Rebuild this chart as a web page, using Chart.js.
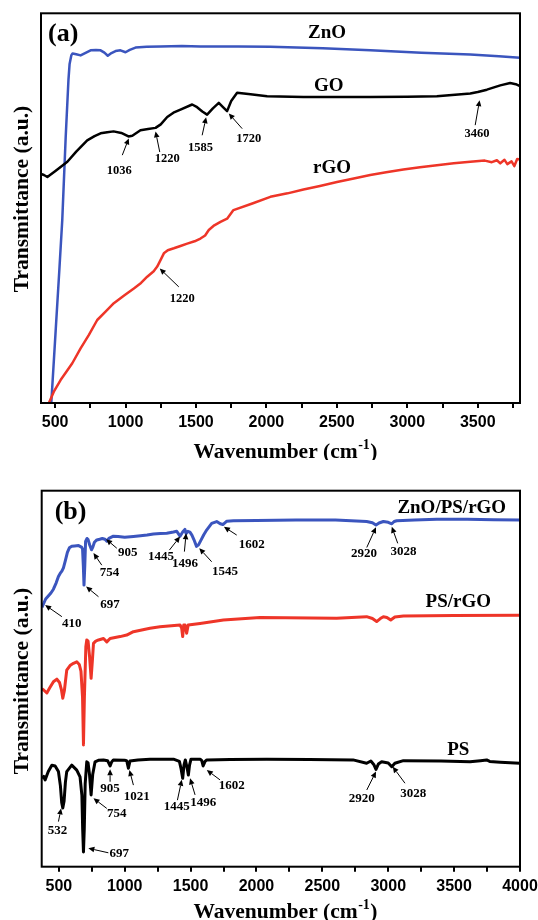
<!DOCTYPE html>
<html>
<head>
<meta charset="utf-8">
<script src="https://cdn.jsdelivr.net/npm/chart.js@4.4.1/dist/chart.umd.min.js"></script>
<style>
  html, body { margin: 0; padding: 0; background: #fff; }
  #wrap { position: relative; width: 538px; height: 920px; }
  canvas { position: absolute; left: 0; }
  #chartA { top: 0; }
  #chartB { top: 460px; }
</style>
</head>
<body>
<div id="wrap">
  <canvas id="chartA" width="538" height="460"></canvas>
  <canvas id="chartB" width="538" height="460"></canvas>
</div>
<script>
// ---- panel (a): ZnO, GO, rGO ----
const znoWn = [465, 473, 504, 530, 551, 575, 595, 603, 615, 624, 650, 681, 720, 752, 790, 823, 850, 874, 900, 929, 964, 1000, 1030, 1071, 1150, 1248, 1400, 1532, 1800, 2028, 2400, 2738, 3100, 3447, 3650, 3800];
const znoT  = [-3, 0, 18.5, 34, 47, 68, 83, 87, 89.2, 89.7, 89.5, 89.2, 89.9, 90.5, 90.6, 90.5, 89.9, 89.1, 89.8, 90.3, 90.5, 90.0, 90.6, 91.2, 91.4, 91.5, 91.6, 91.5, 91.5, 91.4, 91.0, 90.5, 89.9, 89.4, 89.0, 88.6];

const goWn = [400, 421, 445, 500, 587, 650, 728, 780, 823, 870, 915, 970, 1021, 1048, 1106, 1160, 1213, 1250, 1296, 1340, 1390, 1473, 1508, 1545, 1579, 1620, 1662, 1690, 1721, 1750, 1792, 1840, 1887, 2005, 2263, 2500, 2737, 3000, 3210, 3447, 3500, 3565, 3660, 3730, 3770, 3800];
const goT  = [58.8, 58.5, 58.0, 59.5, 61.9, 64.5, 67.4, 68.5, 69.2, 69.5, 69.7, 69.3, 68.4, 68.6, 70.0, 70.3, 70.6, 71.5, 73.4, 74.5, 75.3, 76.6, 75.9, 74.8, 74.0, 75.6, 77.0, 76.0, 74.9, 77.5, 79.6, 79.4, 79.2, 78.7, 78.5, 78.5, 78.5, 78.6, 78.7, 79.4, 79.8, 80.4, 81.5, 82.1, 81.8, 81.3];

const rgoWn = [448, 456, 491, 539, 580, 622, 681, 740, 799, 860, 917, 990, 1059, 1110, 1154, 1200, 1225, 1250, 1272, 1300, 1343, 1390, 1438, 1490, 1532, 1565, 1591, 1630, 1674, 1721, 1766, 1900, 2028, 2150, 2263, 2380, 2501, 2620, 2737, 2850, 2972, 3090, 3210, 3330, 3447, 3550, 3600, 3636, 3660, 3690, 3710, 3740, 3760, 3780, 3800];
const rgoT  = [-1, 0, 2.9, 5.9, 8.0, 10.2, 14, 17.5, 21.3, 23.5, 25.6, 27.6, 29.4, 30.8, 32.4, 33.8, 35, 36.8, 38.4, 39.2, 39.7, 40.3, 40.9, 41.5, 42.2, 43.0, 44.4, 45.6, 46.5, 47.3, 49.5, 51.2, 52.9, 53.8, 54.8, 55.7, 56.7, 57.6, 58.5, 59.2, 59.9, 60.5, 61, 61.5, 61.9, 62.2, 61.8, 62.3, 61.5, 62.4, 61.3, 62.0, 60.8, 62.6, 62.5];

// ---- panel (b): ZnO/PS/rGO, PS/rGO, PS ----
const zprWn = [372, 385, 400, 420, 440, 459, 480, 497, 510, 523, 535, 550, 565, 580, 598, 620, 650, 672, 680, 686, 691, 697, 703, 714, 722, 735, 748, 758, 770, 788, 810, 830, 850, 864, 880, 914, 950, 1000, 1066, 1120, 1170, 1218, 1270, 1319, 1370, 1395, 1407, 1420, 1440, 1457, 1466, 1480, 1495, 1510, 1525, 1545, 1560, 1575, 1600, 1623, 1660, 1698, 1725, 1745, 1775, 1825, 2000, 2300, 2600, 2836, 2880, 2907, 2930, 2963, 3000, 3027, 3045, 3064, 3200, 3368, 3600, 3800, 4000];
const zprT  = [69.0, 70.0, 71.2, 72.0, 72.8, 73.8, 75.5, 77.2, 78.0, 78.6, 79.5, 81.5, 83.6, 84.8, 85.2, 85.3, 85.4, 85.0, 84.5, 80, 74.9, 80, 86.5, 87.3, 87.0, 85.5, 84.3, 85.0, 86.3, 86.9, 87.1, 87.3, 87.1, 86.6, 87.3, 87.9, 87.8, 87.6, 87.8, 88.0, 88.2, 88.5, 88.6, 88.7, 89.0, 89.2, 88.6, 87.9, 89.0, 89.7, 88.6, 89.2, 89.0, 88.2, 87.0, 85.2, 85.6, 86.6, 88.3, 89.6, 91.3, 91.8, 91.2, 91.0, 91.9, 92.0, 92.1, 92.2, 92.2, 91.8, 91.5, 90.9, 91.4, 91.8, 91.6, 91.2, 91.8, 92.0, 92.2, 92.4, 92.4, 92.3, 92.2];

const prWn = [372, 385, 409, 430, 459, 485, 505, 520, 530, 542, 560, 585, 611, 636, 655, 668, 680, 687, 694, 705, 712, 722, 733, 745, 755, 763, 780, 801, 839, 864, 889, 965, 1015, 1066, 1192, 1268, 1420, 1432, 1440, 1448, 1458, 1470, 1482, 1572, 1749, 2027, 2608, 2836, 2880, 2912, 2940, 2963, 2990, 3019, 3050, 3115, 3500, 4000];
const prT  = [47.3, 47.0, 46.2, 47.5, 49.2, 49.9, 49.0, 47.0, 44.8, 46.8, 52.3, 53.5, 54.1, 54.5, 53.8, 52.0, 45, 32.4, 45, 58.5, 60.3, 60.0, 56.0, 50.1, 55.0, 59.4, 60.0, 60.3, 60.7, 59.8, 60.7, 61.2, 61.6, 62.5, 63.4, 63.8, 64.3, 63.5, 61.2, 64.3, 64.3, 62.1, 64.3, 64.7, 65.6, 66.3, 66.1, 66.5, 66.0, 65.2, 66.0, 66.5, 66.3, 65.6, 66.4, 66.7, 66.8, 66.9];

const psWn = [372, 385, 396, 420, 447, 472, 497, 512, 522, 530, 540, 550, 560, 598, 636, 661, 675, 681, 687, 693, 700, 712, 722, 733, 745, 757, 775, 800, 839, 870, 889, 900, 914, 1000, 1015, 1028, 1040, 1100, 1192, 1370, 1415, 1428, 1440, 1450, 1460, 1475, 1483, 1492, 1503, 1572, 1585, 1595, 1610, 1623, 1800, 2078, 2400, 2733, 2836, 2868, 2890, 2907, 2925, 2950, 3000, 3027, 3050, 3115, 3400, 3621, 3700, 3747, 3770, 3850, 4000];
const psT  = [23.5, 24.0, 23.1, 25.3, 27.0, 26.8, 25.3, 21.5, 17.0, 15.6, 17.5, 22.5, 25.3, 27.0, 25.7, 23.9, 19, 10, 3.9, 10, 22, 27.9, 27.6, 24.5, 19.1, 24.5, 27.9, 28.3, 28.4, 28.2, 26.8, 27.8, 28.4, 28.3, 28.2, 26.2, 28.1, 28.4, 28.6, 28.6, 28.0, 26.0, 23.5, 27.0, 28.4, 26.0, 24.4, 27.0, 28.6, 28.6, 28.2, 26.8, 28.0, 28.4, 28.5, 28.6, 28.5, 28.4, 27.5, 28.1, 27.2, 25.9, 27.3, 27.9, 27.6, 26.6, 27.5, 28.2, 28.1, 27.9, 28.2, 28.4, 28.0, 27.8, 27.5];

const xTickLabels = [500, 1000, 1500, 2000, 2500, 3000, 3500, 4000];

// peak labels: arrow tip, arrow tail and text centre, in data units
const peaksA = [
    { text: '1036', tip: [1023, 67.9], tail: [977, 63.6], at: [955, 59.7] },
    { text: '1220', tip: [1213, 69.7], tail: [1243, 64.4], at: [1296, 62.7] },
    { text: '1585', tip: [1572, 73.3], tail: [1544, 68.7], at: [1532, 65.5] },
    { text: '1720', tip: [1733, 74.3], tail: [1828, 70.4], at: [1874, 67.9] },
    { text: '3460', tip: [3513, 77.7], tail: [3482, 71.3], at: [3494, 69.2] },
    { text: '1220', tip: [1243, 34.5], tail: [1378, 29.8], at: [1402, 26.8] }
];
const namesA = [
    { text: 'ZnO', at: [2430, 94.8] },
    { text: 'GO', at: [2442, 81.3] },
    { text: 'rGO', at: [2466, 60.2] }
];

const peaksB = [
    { text: '410', tip: [396, 69.6], tail: [523, 66.5], at: [598, 64.7] },
    { text: '697', tip: [707, 74.5], tail: [801, 71.8], at: [889, 69.6] },
    { text: '754', tip: [763, 83.4], tail: [826, 80.2], at: [884, 78.2] },
    { text: '905', tip: [859, 87.1], tail: [940, 84.7], at: [1024, 83.6] },
    { text: '1445', tip: [1420, 87.8], tail: [1339, 84.2], at: [1276, 82.4] },
    { text: '1496', tip: [1466, 88.7], tail: [1453, 83.8], at: [1457, 80.7] },
    { text: '1545', tip: [1566, 84.7], tail: [1660, 81.1], at: [1761, 78.6] },
    { text: '1602', tip: [1753, 90.4], tail: [1850, 88.2], at: [1964, 85.6] },
    { text: '2920', tip: [2907, 90.3], tail: [2837, 84.9], at: [2816, 83.2] },
    { text: '3028', tip: [3027, 90.4], tail: [3072, 86.0], at: [3115, 83.9] },
    { text: '532', tip: [517, 15.5], tail: [497, 12.0], at: [489, 9.6] },
    { text: '697', tip: [724, 4.9], tail: [876, 3.7], at: [959, 3.6] },
    { text: '754', tip: [763, 18.2], tail: [864, 15.5], at: [940, 14.2] },
    { text: '905', tip: [889, 25.9], tail: [889, 22.6], at: [889, 20.7] },
    { text: '1021', tip: [1036, 25.7], tail: [1066, 21.7], at: [1092, 18.6] },
    { text: '1445', tip: [1433, 23.1], tail: [1400, 17.7], at: [1395, 16.1] },
    { text: '1496', tip: [1496, 23.5], tail: [1534, 19.1], at: [1597, 17.0] },
    { text: '1602', tip: [1623, 25.7], tail: [1723, 23.1], at: [1812, 21.5] },
    { text: '2920', tip: [2907, 25.3], tail: [2837, 20.4], at: [2799, 18.2] },
    { text: '3028', tip: [3034, 26.6], tail: [3127, 22.2], at: [3190, 19.3] }
];
const namesB = [
    { text: 'ZnO/PS/rGO', at: [3482, 95.3] },
    { text: 'PS/rGO', at: [3532, 70.5] },
    { text: 'PS', at: [3532, 31.0] }
];

const BLUE = '#3B55BE', RED = '#EE3528', BLACK = '#000000';
const SERIF = '"Liberation Serif", "Times New Roman", serif';
const SANS = '"Liberation Sans", Arial, sans-serif';

const toPoints = (xs, ys) => xs.map((x, i) => ({ x, y: ys[i] }));

// frame, arrows, labels, axis titles
const decorations = {
    id: 'decorations',
    afterDatasetsDraw(chart, args, opts) {
        const { ctx, chartArea: a, scales: { x, y } } = chart;
        ctx.save();
        ctx.strokeStyle = '#000';
        ctx.lineWidth = 2;
        ctx.strokeRect(a.left, a.top, a.right - a.left, a.bottom - a.top);

        // arrows + peak numbers
        ctx.fillStyle = '#000';
        ctx.lineWidth = 1;
        opts.peaks.forEach(p => {
            const tx = x.getPixelForValue(p.tip[0]), ty = y.getPixelForValue(p.tip[1]);
            const sx = x.getPixelForValue(p.tail[0]), sy = y.getPixelForValue(p.tail[1]);
            const ang = Math.atan2(ty - sy, tx - sx);
            const hl = 6, hw = 2.8;
            const bx = tx - hl * Math.cos(ang), by = ty - hl * Math.sin(ang);
            ctx.beginPath();
            ctx.moveTo(sx, sy);
            ctx.lineTo(bx, by);
            ctx.stroke();
            ctx.beginPath();
            ctx.moveTo(tx, ty);
            ctx.lineTo(bx + hw * Math.sin(ang), by - hw * Math.cos(ang));
            ctx.lineTo(bx - hw * Math.sin(ang), by + hw * Math.cos(ang));
            ctx.closePath();
            ctx.fill();
            ctx.font = 'bold ' + opts.peakSize + 'px ' + SERIF;
            ctx.textAlign = 'center';
            ctx.textBaseline = 'middle';
            ctx.fillText(p.text, x.getPixelForValue(p.at[0]), y.getPixelForValue(p.at[1]));
        });

        // curve names
        ctx.font = 'bold 19px ' + SERIF;
        ctx.textAlign = 'center';
        ctx.textBaseline = 'middle';
        opts.names.forEach(n => {
            ctx.fillText(n.text, x.getPixelForValue(n.at[0]), y.getPixelForValue(n.at[1]));
        });

        // panel letter
        ctx.font = 'bold 26px ' + SERIF;
        ctx.textAlign = 'left';
        ctx.fillText(opts.letter, a.left + opts.letterDx, a.top + opts.letterDy);

        // y title
        ctx.save();
        ctx.translate(28, opts.yTitleCenter);
        ctx.rotate(-Math.PI / 2);
        ctx.font = 'bold 21.5px ' + SERIF;
        ctx.textAlign = 'center';
        ctx.textBaseline = 'alphabetic';
        ctx.fillText('Transmittance (a.u.)', 0, 0);
        ctx.restore();

        // x title with superscript
        const big = 'bold 21.5px ' + SERIF, small = 'bold 14px ' + SERIF;
        ctx.textBaseline = 'alphabetic';
        ctx.textAlign = 'left';
        ctx.font = big;
        const w1 = ctx.measureText('Wavenumber (cm').width;
        const w3 = ctx.measureText(')').width;
        ctx.font = small;
        const w2 = ctx.measureText('-1').width;
        let x0 = opts.xTitleCenter - (w1 + w2 + w3) / 2;
        const base = opts.xTitleBase;
        ctx.font = big;
        ctx.fillText('Wavenumber (cm', x0, base);
        ctx.font = small;
        ctx.fillText('-1', x0 + w1 + 0.5, base - 9);
        ctx.font = big;
        ctx.fillText(')', x0 + w1 + w2 + 1, base);
        ctx.restore();
    }
};

function makeChart(id, datasets, cfg) {
    return new Chart(document.getElementById(id), {
        type: 'line',
        data: { datasets },
        options: {
            responsive: false,
            animation: false,
            devicePixelRatio: 1,
            layout: { padding: { left: cfg.left, right: 538 - cfg.right, top: cfg.top, bottom: 0 } },
            elements: { point: { radius: 0 }, line: { tension: 0, borderJoinStyle: 'round' } },
            plugins: {
                legend: { display: false },
                tooltip: { enabled: false },
                decorations: cfg.deco
            },
            scales: {
                x: {
                    type: 'linear',
                    min: cfg.xMin,
                    max: cfg.xMax,
                    afterFit: s => { s.height = 460 - cfg.bottom; s.paddingLeft = 0; s.paddingRight = 0; },
                    border: { display: false },
                    grid: { drawOnChartArea: false, drawTicks: true, tickLength: 5, color: '#000', lineWidth: 2 },
                    ticks: {
                        stepSize: 250,
                        includeBounds: false,
                        autoSkip: false,
                        maxRotation: 0,
                        padding: 5,
                        color: '#000',
                        font: { family: SANS, size: 16, weight: 'bold' },
                        callback: v => xTickLabels.includes(v) ? String(v) : ''
                    }
                },
                y: { display: false, min: 0, max: 100 }
            }
        },
        plugins: [decorations]
    });
}

const line = (label, xs, ys, color, w) => ({
    label, data: toPoints(xs, ys), borderColor: color, borderWidth: w, fill: false
});

makeChart('chartA', [
    line('rGO', rgoWn, rgoT, RED, 2.5),
    line('GO', goWn, goT, BLACK, 2.5),
    line('ZnO', znoWn, znoT, BLUE, 2.5)
], {
    left: 41, right: 520, top: 13.3, bottom: 403, xMin: 400, xMax: 3800,
    deco: { peaks: peaksA, names: namesA, peakSize: 12.5, letter: '(a)', letterDx: 7, letterDy: 21,
            yTitleCenter: 199, xTitleCenter: 285, xTitleBase: 458 }
});

makeChart('chartB', [
    line('PS', psWn, psT, BLACK, 3),
    line('PS/rGO', prWn, prT, RED, 3),
    line('ZnO/PS/rGO', zprWn, zprT, BLUE, 3)
], {
    left: 41.7, right: 520, top: 30.7, bottom: 406.7, xMin: 370, xMax: 4000,
    deco: { peaks: peaksB, names: namesB, peakSize: 13, letter: '(b)', letterDx: 13, letterDy: 22,
            yTitleCenter: 221, xTitleCenter: 285, xTitleBase: 458 }
});
</script>
</body>
</html>
